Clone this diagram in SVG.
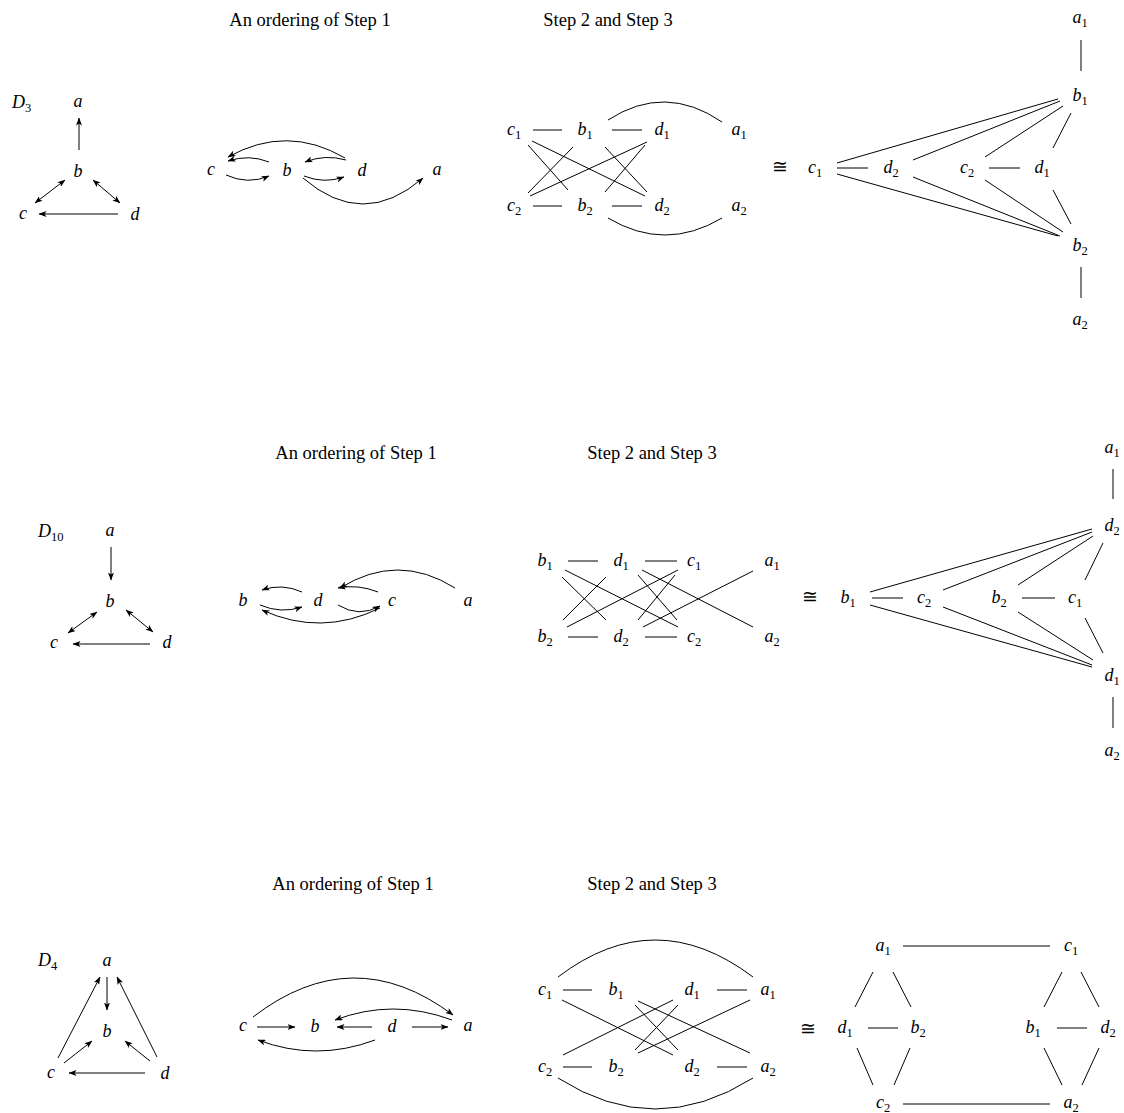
<svg xmlns="http://www.w3.org/2000/svg" width="1124" height="1113" viewBox="0 0 1124 1113">
<defs>
<marker id="ah" viewBox="0 0 8 6" refX="7.5" refY="3" markerWidth="8" markerHeight="6" markerUnits="userSpaceOnUse" orient="auto-start-reverse"><path d="M0,0 L8,3 L0,6 L2,3 Z" fill="#000"/></marker>
</defs>
<style>
.m{font-family:"Liberation Serif","Times New Roman",serif;font-style:italic;font-size:18px;fill:#000;text-anchor:middle}
.st{text-anchor:start}
.s{font-style:normal;font-size:12.5px}
.t{font-family:"Liberation Serif","Times New Roman",serif;font-size:18.5px;fill:#000;text-anchor:middle}
.e{fill:none;stroke:#000;stroke-width:1}
.a{marker-end:url(#ah)}
.aa{marker-start:url(#ah);marker-end:url(#ah)}
</style>
<rect width="1124" height="1113" fill="#fff"/>

<!-- titles -->
<g id="titles">
<text class="t" x="310" y="26">An ordering of Step 1</text>
<text class="t" x="608" y="26">Step 2 and Step 3</text>
<text class="t" x="356" y="459">An ordering of Step 1</text>
<text class="t" x="652" y="459">Step 2 and Step 3</text>
<text class="t" x="353" y="890">An ordering of Step 1</text>
<text class="t" x="652" y="890">Step 2 and Step 3</text>
</g>

<!-- ================= D3 ================= -->
<g id="d3-name"><text class="m st" x="12" y="108">D<tspan class="s" dy="3.5">3</tspan></text></g>
<g id="d3-a"><text class="m" x="78" y="107">a</text></g>
<g id="d3-b"><text class="m" x="78" y="177">b</text></g>
<g id="d3-c"><text class="m" x="23" y="219">c</text></g>
<g id="d3-d"><text class="m" x="135" y="220">d</text></g>

<g id="d3o-c"><text class="m" x="211" y="175">c</text></g>
<g id="d3o-b"><text class="m" x="287" y="176">b</text></g>
<g id="d3o-d"><text class="m" x="362" y="176">d</text></g>
<g id="d3o-a"><text class="m" x="437" y="175">a</text></g>

<g id="d3s-c1"><text class="m" x="514" y="135">c<tspan class="s" dy="3.5">1</tspan></text></g>
<g id="d3s-b1"><text class="m" x="585" y="135">b<tspan class="s" dy="3.5">1</tspan></text></g>
<g id="d3s-d1"><text class="m" x="662" y="135">d<tspan class="s" dy="3.5">1</tspan></text></g>
<g id="d3s-a1"><text class="m" x="739" y="135">a<tspan class="s" dy="3.5">1</tspan></text></g>
<g id="d3s-c2"><text class="m" x="514" y="211">c<tspan class="s" dy="3.5">2</tspan></text></g>
<g id="d3s-b2"><text class="m" x="585" y="211">b<tspan class="s" dy="3.5">2</tspan></text></g>
<g id="d3s-d2"><text class="m" x="662" y="211">d<tspan class="s" dy="3.5">2</tspan></text></g>
<g id="d3s-a2"><text class="m" x="739" y="211">a<tspan class="s" dy="3.5">2</tspan></text></g>

<g id="d3-iso"><text class="t" x="780" y="173">≅</text></g>
<g id="d3r-c1"><text class="m" x="815" y="173">c<tspan class="s" dy="3.5">1</tspan></text></g>
<g id="d3r-d2"><text class="m" x="891" y="173">d<tspan class="s" dy="3.5">2</tspan></text></g>
<g id="d3r-c2"><text class="m" x="967" y="173">c<tspan class="s" dy="3.5">2</tspan></text></g>
<g id="d3r-d1"><text class="m" x="1042" y="173">d<tspan class="s" dy="3.5">1</tspan></text></g>
<g id="d3r-a1"><text class="m" x="1080" y="23">a<tspan class="s" dy="3.5">1</tspan></text></g>
<g id="d3r-b1"><text class="m" x="1080" y="101">b<tspan class="s" dy="3.5">1</tspan></text></g>
<g id="d3r-b2"><text class="m" x="1080" y="251">b<tspan class="s" dy="3.5">2</tspan></text></g>
<g id="d3r-a2"><text class="m" x="1080" y="325">a<tspan class="s" dy="3.5">2</tspan></text></g>

<!-- ================= D10 ================= -->
<g id="d10-name"><text class="m st" x="38" y="537">D<tspan class="s" dy="3.5">10</tspan></text></g>
<g id="d10-a"><text class="m" x="110" y="536">a</text></g>
<g id="d10-b"><text class="m" x="110" y="607">b</text></g>
<g id="d10-c"><text class="m" x="54" y="648">c</text></g>
<g id="d10-d"><text class="m" x="167" y="648">d</text></g>

<g id="d10o-b"><text class="m" x="243" y="606">b</text></g>
<g id="d10o-d"><text class="m" x="318" y="606">d</text></g>
<g id="d10o-c"><text class="m" x="392" y="606">c</text></g>
<g id="d10o-a"><text class="m" x="468" y="606">a</text></g>

<g id="d10s-b1"><text class="m" x="545" y="566">b<tspan class="s" dy="3.5">1</tspan></text></g>
<g id="d10s-d1"><text class="m" x="621" y="566">d<tspan class="s" dy="3.5">1</tspan></text></g>
<g id="d10s-c1"><text class="m" x="694" y="566">c<tspan class="s" dy="3.5">1</tspan></text></g>
<g id="d10s-a1"><text class="m" x="772" y="566">a<tspan class="s" dy="3.5">1</tspan></text></g>
<g id="d10s-b2"><text class="m" x="545" y="642">b<tspan class="s" dy="3.5">2</tspan></text></g>
<g id="d10s-d2"><text class="m" x="621" y="642">d<tspan class="s" dy="3.5">2</tspan></text></g>
<g id="d10s-c2"><text class="m" x="694" y="642">c<tspan class="s" dy="3.5">2</tspan></text></g>
<g id="d10s-a2"><text class="m" x="772" y="642">a<tspan class="s" dy="3.5">2</tspan></text></g>

<g id="d10-iso"><text class="t" x="810" y="603">≅</text></g>
<g id="d10r-b1"><text class="m" x="848" y="603">b<tspan class="s" dy="3.5">1</tspan></text></g>
<g id="d10r-c2"><text class="m" x="924" y="603">c<tspan class="s" dy="3.5">2</tspan></text></g>
<g id="d10r-b2"><text class="m" x="999" y="603">b<tspan class="s" dy="3.5">2</tspan></text></g>
<g id="d10r-c1"><text class="m" x="1075" y="603">c<tspan class="s" dy="3.5">1</tspan></text></g>
<g id="d10r-a1"><text class="m" x="1112" y="453">a<tspan class="s" dy="3.5">1</tspan></text></g>
<g id="d10r-d2"><text class="m" x="1112" y="531">d<tspan class="s" dy="3.5">2</tspan></text></g>
<g id="d10r-d1"><text class="m" x="1112" y="681">d<tspan class="s" dy="3.5">1</tspan></text></g>
<g id="d10r-a2"><text class="m" x="1112" y="756">a<tspan class="s" dy="3.5">2</tspan></text></g>

<!-- ================= D4 ================= -->
<g id="d4-name"><text class="m st" x="38" y="966">D<tspan class="s" dy="3.5">4</tspan></text></g>
<g id="d4-a"><text class="m" x="107" y="966">a</text></g>
<g id="d4-b"><text class="m" x="107" y="1037">b</text></g>
<g id="d4-c"><text class="m" x="51" y="1078">c</text></g>
<g id="d4-d"><text class="m" x="165" y="1079">d</text></g>

<g id="d4o-c"><text class="m" x="243" y="1031">c</text></g>
<g id="d4o-b"><text class="m" x="315" y="1032">b</text></g>
<g id="d4o-d"><text class="m" x="392" y="1032">d</text></g>
<g id="d4o-a"><text class="m" x="468" y="1031">a</text></g>

<g id="d4s-c1"><text class="m" x="545" y="995">c<tspan class="s" dy="3.5">1</tspan></text></g>
<g id="d4s-b1"><text class="m" x="616" y="995">b<tspan class="s" dy="3.5">1</tspan></text></g>
<g id="d4s-d1"><text class="m" x="692" y="995">d<tspan class="s" dy="3.5">1</tspan></text></g>
<g id="d4s-a1"><text class="m" x="768" y="995">a<tspan class="s" dy="3.5">1</tspan></text></g>
<g id="d4s-c2"><text class="m" x="545" y="1072">c<tspan class="s" dy="3.5">2</tspan></text></g>
<g id="d4s-b2"><text class="m" x="616" y="1072">b<tspan class="s" dy="3.5">2</tspan></text></g>
<g id="d4s-d2"><text class="m" x="692" y="1072">d<tspan class="s" dy="3.5">2</tspan></text></g>
<g id="d4s-a2"><text class="m" x="768" y="1072">a<tspan class="s" dy="3.5">2</tspan></text></g>

<g id="d4-iso"><text class="t" x="808" y="1035">≅</text></g>
<g id="d4r-a1"><text class="m" x="883" y="951">a<tspan class="s" dy="3.5">1</tspan></text></g>
<g id="d4r-c1"><text class="m" x="1071" y="951">c<tspan class="s" dy="3.5">1</tspan></text></g>
<g id="d4r-d1"><text class="m" x="845" y="1033">d<tspan class="s" dy="3.5">1</tspan></text></g>
<g id="d4r-b2"><text class="m" x="918" y="1033">b<tspan class="s" dy="3.5">2</tspan></text></g>
<g id="d4r-b1"><text class="m" x="1033" y="1033">b<tspan class="s" dy="3.5">1</tspan></text></g>
<g id="d4r-d2"><text class="m" x="1108" y="1033">d<tspan class="s" dy="3.5">2</tspan></text></g>
<g id="d4r-c2"><text class="m" x="883" y="1108">c<tspan class="s" dy="3.5">2</tspan></text></g>
<g id="d4r-a2"><text class="m" x="1071" y="1108">a<tspan class="s" dy="3.5">2</tspan></text></g>

<!-- ================= connectors ================= -->
<g id="connectors">
<!-- D3 triangle -->
<path class="e a" d="M79,150 L79,118"/>
<path class="e aa" d="M35,203 L65,180"/>
<path class="e aa" d="M93,180 L120,203"/>
<path class="e a" d="M118,214 L39,214"/>
<!-- D3 ordering -->
<path class="e a" d="M345,158 Q287,124 228,157"/>
<path class="e a" d="M269,162 Q249,154 228,161"/>
<path class="e a" d="M226,175 Q248,185 269,176"/>
<path class="e a" d="M346,160 Q325,154 305,162"/>
<path class="e a" d="M304,176 Q324,184 344,177"/>
<path class="e a" d="M303,178 Q363,230 423,178"/>
<!-- D3 step 2 -->
<path class="e" d="M533,130 H562 M612,130 H642 M533,206 H562 M612,206 H642"/>
<path class="e" d="M528,145 L568,190 M532,141 L645,196 M528,193 L573,147 M530,196 L647,142 M605,147 L647,192 M605,192 L645,145"/>
<path class="e" d="M608,120 Q665,83 722,122 M608,218 Q665,252 722,218"/>
<!-- D3 right -->
<path class="e" d="M1081,40 V71 M1081,267 V298 M837,168 H868 M989,168 H1020"/>
<path class="e" d="M837,163 L1058,99 M913,160 L1060,101 M985,157 L1063,106 M1053,148 L1071,113"/>
<path class="e" d="M837,174 L1058,236 M913,177 L1060,236 M985,180 L1063,232 M1053,190 L1071,224"/>

<!-- D10 triangle -->
<path class="e a" d="M111,547 L111,580"/>
<path class="e aa" d="M68,633 L97,612"/>
<path class="e aa" d="M126,610 L153,632"/>
<path class="e a" d="M150,644 L73,644"/>
<!-- D10 ordering -->
<path class="e a" d="M302,592 Q282,583 262,590"/>
<path class="e a" d="M260,605 Q281,614 302,607"/>
<path class="e a" d="M378,592 Q358,584 338,588"/>
<path class="e a" d="M338,605 Q359,618 380,606"/>
<path class="e a" d="M455,588 Q398,552 340,588"/>
<path class="e a" d="M380,608 Q321,637 262,610"/>
<!-- D10 step 2 -->
<path class="e" d="M568,561 H598 M645,561 H677 M568,637 H598 M645,637 H677"/>
<path class="e" d="M562,577 L606,620 M565,570 L678,627 M563,620 L606,577 M567,627 L678,570 M638,575 L677,620 M642,570 L753,627 M638,620 L675,575 M643,627 L753,571"/>
<!-- D10 right -->
<path class="e" d="M1113,469 V499 M1113,697 V728 M872,598 H903 M1022,598 H1055"/>
<path class="e" d="M870,592 L1092,529 M943,590 L1092,532 M1018,585 L1093,536 M1085,580 L1103,543"/>
<path class="e" d="M870,605 L1092,667 M943,607 L1092,665 M1018,612 L1093,660 M1085,618 L1103,653"/>

<!-- D4 triangle -->
<path class="e a" d="M107,977 L107,1010"/>
<path class="e a" d="M58,1058 L100,977"/>
<path class="e a" d="M157,1057 L117,977"/>
<path class="e a" d="M64,1063 L92,1041"/>
<path class="e a" d="M150,1061 L125,1041"/>
<path class="e a" d="M145,1073 L69,1073"/>
<!-- D4 ordering -->
<path class="e a" d="M253,1017 Q353,940 453,1015"/>
<path class="e a" d="M452,1020 Q393,998 335,1020"/>
<path class="e a" d="M257,1027 L295,1027"/>
<path class="e a" d="M372,1027 L337,1027"/>
<path class="e a" d="M412,1027 L448,1027"/>
<path class="e a" d="M375,1040 Q316,1062 258,1040"/>
<!-- D4 step 2 -->
<path class="e" d="M563,990 H592 M717,990 H747 M563,1067 H592 M717,1067 H747"/>
<path class="e" d="M562,1000 L673,1055 M563,1055 L673,1000 M635,1005 L678,1050 M635,1050 L678,1005 M638,1001 L750,1053 M638,1053 L750,1000"/>
<path class="e" d="M558,977 Q655,903 753,977 M558,1078 Q655,1140 753,1078"/>
<!-- D4 right -->
<path class="e" d="M903,946 H1050 M903,1104 H1050 M868,1028 H898 M1057,1028 H1087"/>
<path class="e" d="M873,972 L855,1007 M893,972 L911,1007 M1062,972 L1044,1007 M1081,972 L1099,1007"/>
<path class="e" d="M857,1048 L873,1085 M910,1048 L894,1085 M1044,1048 L1062,1085 M1099,1048 L1082,1085"/>
</g>
</svg>
